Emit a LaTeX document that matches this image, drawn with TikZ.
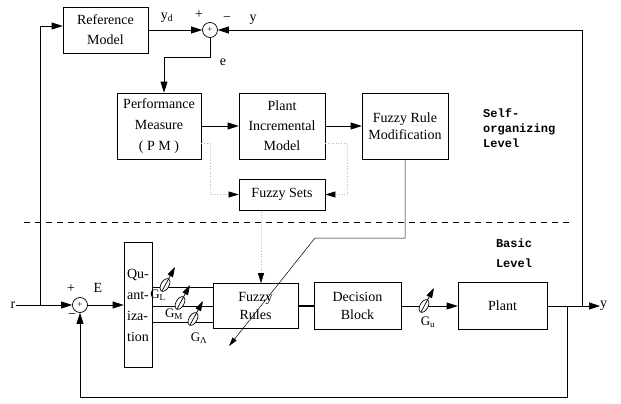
\documentclass[tikz,border=0pt]{standalone}
\usepackage{fontspec}
\setmainfont{Liberation Serif}
\newfontfamily\levelfont{Liberation Mono}
\usetikzlibrary{arrows.meta, positioning, calc}

\tikzset{
  block/.style={draw, line width=0.7pt, align=center, inner sep=1pt,
                font=\fontsize{14}{20}\selectfont},
  sumnode/.style={draw, circle, line width=0.7pt, minimum size=15pt,
                  inner sep=0pt, font=\fontsize{9}{9}\selectfont},
  sig/.style={line width=0.7pt},
  arr/.style={sig, -{Triangle[length=11pt,width=7pt]}},
  faint/.style={dotted, line width=0.6pt, black!25,
                -{Triangle[length=10pt,width=6pt,color=black]}},
  lbl/.style={inner sep=0pt, font=\fontsize{14}{14}\selectfont},
  glbl/.style={inner sep=0pt, font=\fontsize{13}{13}\selectfont},
  lvl/.style={inner sep=0pt, font=\levelfont\bfseries\fontsize{12}{15}\selectfont},
}

% variable gain: tilted ellipse with an arrow through it
\newcommand{\gainknob}[2]{%
  \draw[line width=0.7pt, fill=white] (#1,#2) ellipse [x radius=4pt, y radius=7pt, rotate=-30];
  \draw[line width=0.7pt, -{Triangle[length=10pt,width=6pt]}]
    ($(#1,#2)+(-3,6)$) -- ($(#1,#2)+(10,-18)$);
}

\begin{document}
\begin{tikzpicture}[x=1pt, y=-1pt]
  \useasboundingbox (0,0) rectangle (621,404);

  % Self-organizing level
  \node[block, minimum width=85pt, minimum height=46pt] (ref) at (105.5,30) {Reference\\Model};
  \node[sumnode] (sum1) at (210,30) {+};
  \node[block, minimum width=84pt, minimum height=66pt, font=\fontsize{14}{21}\selectfont] (pm) at (159,126) {Performance\\Measure\\( P M )};
  \node[block, minimum width=86pt, minimum height=66pt] (pim) at (282,126) {Plant\\Incremental\\Model};
  \node[block, minimum width=86pt, minimum height=66pt, font=\fontsize{14}{17}\selectfont] (frm) at (405,126) {Fuzzy Rule\\Modification};
  \node[block, minimum width=86pt, minimum height=31pt] (fsets) at (282,194.5) {Fuzzy Sets};

  \node[lbl] (ydlab) at (167,18) {y\textsubscript{d}};
  \node[lbl] (plus1) at (199,15) {+};
  \node[lbl] (minus1) at (227,19) {−};
  \node[lbl] (ylab) at (253,20) {y};
  \node[lbl] (elab) at (223,62) {e};
  \node[lvl, anchor=west, align=left] (selflab) at (483,128) {Self-\\organizing\\Level};

  \draw[arr] (ref.east) -- (sum1.west);
  \coordinate (ebend) at (164,57);
  \draw[arr] (sum1.south) |- (ebend) -- (ebend |- pm.north);
  \draw[arr] (pm.east) -- (pim.west);
  \draw[arr] (pim.east) -- (frm.west);

  % dotted links to the fuzzy sets
  \coordinate (pmdot) at (210,143);
  \coordinate (pimdot) at (347,143);
  \coordinate (sdot) at (261,212);
  \draw[faint] (pm.east |- pmdot) -- (pmdot) |- (fsets.west);
  \draw[faint] (pim.east |- pimdot) -- (pimdot) |- (fsets.east);

  % level border
  \coordinate (dashl) at (24,222);
  \coordinate (dashr) at (570,222);
  \draw[line width=0.6pt, dash pattern=on 6pt off 5pt] (dashl) -- (dashr);
  \node[lvl, align=center, font=\levelfont\bfseries\fontsize{12}{20}\selectfont] (basiclab) at (514,253) {Basic\\Level};

  % Basic level
  \node[lbl] (rlab) at (13,305) {r};
  \node[sumnode] (sum2) at (80,305) {+};
  \node[lbl] (plus2) at (71,289) {+};
  \node[lbl] (minus2) at (72,316) {−};
  \node[lbl] (elab2) at (98,288) {E};
  \node[block, minimum width=28pt, minimum height=125pt, align=left, font=\fontsize{14}{21}\selectfont] (quant) at (138,305) {Qu-\\ant-\\iza-\\tion};
  \node[block, minimum width=85pt, minimum height=45pt, font=\fontsize{14}{18}\selectfont] (rules) at (255.5,306) {Fuzzy\\Rules};
  \node[block, minimum width=87pt, minimum height=47pt, font=\fontsize{14}{18}\selectfont] (dec) at (357.5,306) {Decision\\Block};
  \node[block, minimum width=89pt, minimum height=47pt] (plant) at (502.5,306) {Plant};
  \node[lbl, anchor=west] (yout) at (600,306) {y};

  \coordinate (rtap) at (40,305);
  \draw[arr] (rlab.east) -- (sum2.west);
  \draw[arr] (rtap) |- ($(ref.west)+(0,-4)$);
  \draw[arr] (sum2.east) -- (quant.west);

  \draw[sig] (quant.east |- 0,287) -- (rules.west |- 0,287);
  \draw[sig] (quant.east |- 0,306) -- (rules.west |- 0,306);
  \draw[sig] (quant.east |- 0,322) -- (rules.west |- 0,322);
  \gainknob{165}{285}
  \gainknob{180}{303}
  \gainknob{193}{319}
  \node[glbl] (gl) at (158,295) {G\textsubscript{L}};
  \node[glbl] (gm) at (174,314) {G\textsubscript{M}};
  \node[glbl] (gla) at (199,338) {G\textsubscript{Λ}};

  \draw[line width=1.4pt] (rules.east) -- (dec.west);
  \draw[arr] (dec.east) -- (plant.west);
  \gainknob{424}{306}
  \node[glbl] (gu) at (428,322) {G\textsubscript{u}};

  % output and feedback paths
  \coordinate (ytap) at (582,306);
  \coordinate (fbtap) at (567,306);
  \coordinate (fbcorner) at (567,397);
  \draw[arr] (plant.east) -- (yout.west);
  \draw[arr] (ytap) |- (sum1.east);
  \draw[arr] (fbtap) -- (fbcorner) -| (sum2.south);

  % rule modification and fuzzy set links
  \draw[faint] (sdot) -- (sdot |- rules.north);
  \coordinate (mbend) at (315,238);
  \coordinate (mtip) at (229,346);
  \draw[line width=0.5pt, -{Triangle[length=9pt,width=5pt]}] (frm.south) |- (mbend) -- (mtip);
\end{tikzpicture}
\end{document}
